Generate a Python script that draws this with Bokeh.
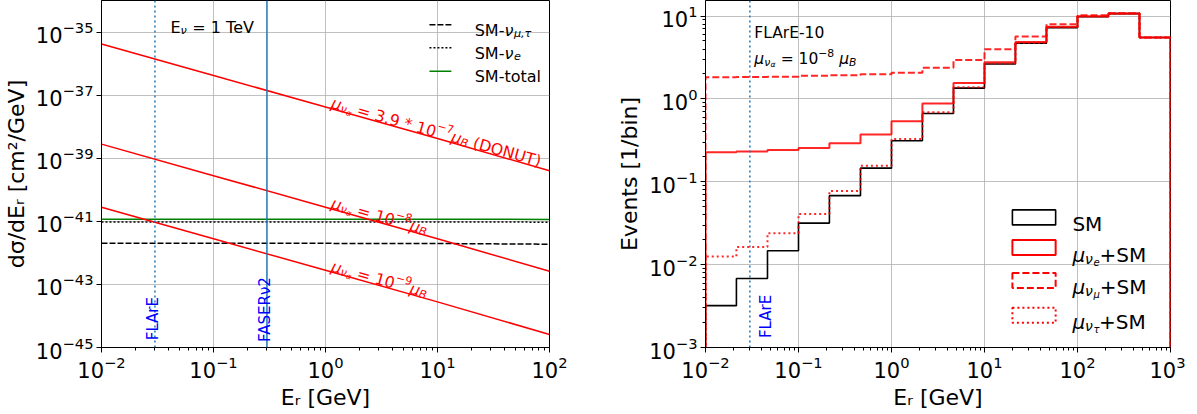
import math
import numpy as np
from bokeh.plotting import figure
from bokeh.models import Label, FixedTicker, Span
from bokeh.layouts import row
from bokeh.embed import file_html
from bokeh.resources import INLINE

FONT = "DejaVu Sans"
RED = "#ff0000"
C0 = "#1f77b4"

# ---------------- left panel data (dsigma/dEr, cm^2/GeV) ----------------
er_points = [1e-2, 1e-1, 1e0, 1e1, 1e2]
xsec_donut = [4.2e-36, 4.2e-37, 4.2e-38, 4.2e-39, 4.0e-40]
xsec_mu8 = [2.8e-39, 2.8e-40, 2.8e-41, 2.8e-42, 2.6e-43]
xsec_mu9 = [2.8e-41, 2.8e-42, 2.8e-43, 2.8e-44, 2.6e-45]
xsec_sm_mutau = [2.0e-42, 2.0e-42, 2.0e-42, 1.98e-42, 1.88e-42]
xsec_sm_e = [9.6e-42, 9.6e-42, 9.6e-42, 9.55e-42, 9.4e-42]
xsec_sm_total = [1.16e-41, 1.16e-41, 1.16e-41, 1.16e-41, 1.15e-41]
flare_threshold = 0.03
faser_threshold = 0.3

left_x_ticks = [1e-2, 1e-1, 1e0, 1e1, 1e2]
left_y_ticks = [1e-45, 1e-43, 1e-41, 1e-39, 1e-37, 1e-35]
left_x_range = (1e-2, 1e2)
left_y_range = (1e-45, 1e-34)

# ---------------- right panel data (events per bin) ----------------
bin_edges = [0.01, 0.0215, 0.0464, 0.1, 0.215, 0.464, 1.0, 2.15, 4.64,
             10.0, 21.5, 46.4, 100.0, 215.0, 464.0, 1000.0]
events_sm = [3.2e-3, 6.8e-3, 1.47e-2, 3.17e-2, 6.8e-2, 0.146, 0.313, 0.666,
             1.35, 2.64, 4.70, 7.24, 9.8, 10.7, 5.5]
events_mue = [0.227, 0.232, 0.242, 0.256, 0.291, 0.373, 0.538, 0.883,
              1.56, 2.76, 4.87, 7.45, 9.97, 10.7, 5.5]
events_mumu = [1.83, 1.84, 1.85, 1.90, 1.93, 1.99, 2.07, 2.38,
               2.94, 3.98, 5.65, 7.94, 10.2, 10.8, 5.5]
events_mutau = [0.0125, 0.0163, 0.0239, 0.0408, 0.0776, 0.156, 0.328, 0.69,
                1.38, 2.68, 4.75, 7.3, 9.85, 10.7, 5.5]

right_x_ticks = [1e-2, 1e-1, 1e0, 1e1, 1e2, 1e3]
right_y_ticks = [1e-3, 1e-2, 1e-1, 1e0, 1e1]
right_x_range = (1e-2, 1e3)
right_y_range = (1e-3, 15.4)

# ---------------- helpers ----------------
CW = {" ": .318, "\u00a0": .318, "0": .636, "1": .636, "2": .636, "3": .636, "4": .636,
      "5": .636, "6": .636, "7": .636, "8": .636, "9": .636, "=": .838, "+": .838,
      "\u2212": .838, "-": .361, "*": .5, ".": .318, ",": .318, "(": .39, ")": .39,
      "A": .684, "B": .686, "D": .770, "E": .632, "F": .575, "L": .557, "M": .863,
      "N": .748, "O": .787, "S": .635, "T": .611, "U": .732, "V": .684, "a": .613,
      "e": .615, "l": .278, "o": .612, "r": .411, "t": .392, "\u03bc": .636,
      "\u03bd": .592, "\u03b1": .659, "\u03c4": .56}


def tw(s):
    return sum(CW.get(c, 0.62) for c in s)


def rich(p, x, y, segs, size, color="black", angle=0.0, perp0=0.0):
    """segs: (text, scale, baseline shift in units of size, italic)"""
    ca, sa = math.cos(angle), math.sin(angle)
    adv = 0.0
    for txt, sc, shift, ital in segs:
        txt = txt.replace(" ", "\u00a0")
        fs = size * sc
        perp = shift * size + perp0
        p.add_layout(Label(x=x, y=y, x_offset=adv * ca - perp * sa,
                           y_offset=adv * sa + perp * ca, angle=angle, text=txt,
                           text_font=FONT, text_font_size=f"{fs:.1f}px",
                           text_font_style="italic" if ital else "normal",
                           text_color=color, text_align="left",
                           text_baseline="alphabetic"))
        adv += tw(txt) * fs


def fx(rng, f):
    lo, hi = math.log10(rng[0]), math.log10(rng[1])
    return 10 ** (lo + f * (hi - lo))


def fy(rng, f):  # fraction measured from the top of the frame
    lo, hi = math.log10(rng[0]), math.log10(rng[1])
    return 10 ** (hi - f * (hi - lo))


def minor_of(major):
    out = []
    for a in major[:-1]:
        out += [m * a for m in range(2, 10)]
    return out


def style(p, xt, yt, xminor, yminor, xlabel, ylabel):
    p.xaxis.ticker = FixedTicker(ticks=xt, minor_ticks=xminor)
    p.yaxis.ticker = FixedTicker(ticks=yt, minor_ticks=yminor)
    p.xaxis.axis_label = xlabel
    p.yaxis.axis_label = ylabel
    for ax in list(p.xaxis) + list(p.yaxis):
        ax.axis_label_text_font = FONT
        ax.axis_label_text_font_size = "22px"
        ax.axis_label_text_font_style = "normal"
        ax.axis_label_text_color = "black"
        ax.major_label_text_font = FONT
        ax.major_label_text_font_size = "21px"
        ax.major_label_text_color = "black"
        ax.major_tick_in = 0
        ax.major_tick_out = 5
        ax.minor_tick_in = 0
        ax.minor_tick_out = 3
        ax.axis_line_color = "black"
        ax.major_tick_line_color = "black"
        ax.minor_tick_line_color = "black"
        ax.major_label_standoff = 3
        ax.axis_label_standoff = 4
    p.grid.grid_line_color = "#b0b0b0"
    p.grid.grid_line_width = 0.8
    p.outline_line_color = "black"
    p.outline_line_alpha = 1.0
    p.background_fill_color = "white"
    p.border_fill_color = "white"


def step_xy(edges, vals, floor=1e-4):
    xs, ys = [edges[0]], [floor]
    for i, v in enumerate(vals):
        xs += [edges[i], edges[i + 1]]
        ys += [v, v]
    xs.append(edges[-1])
    ys.append(floor)
    return xs, ys


def interp_log(xq, xs, ys):
    return 10 ** np.interp(math.log10(xq), np.log10(xs), np.log10(ys))


# ---------------- left figure ----------------
FW1, FH1 = 448, 347
p1 = figure(frame_width=FW1, frame_height=FH1, x_axis_type="log", y_axis_type="log",
            x_range=left_x_range, y_range=left_y_range, output_backend="svg",
            toolbar_location=None, min_border_left=97, min_border_right=40,
            min_border_top=0, min_border_bottom=51)
style(p1, left_x_ticks, left_y_ticks, minor_of(left_x_ticks), [],
      "E\u1d63 [GeV]", "d\u03c3/dE\u1d63 [cm\u00b2/GeV]")

p1.add_layout(Span(location=flare_threshold, dimension="height", line_color=C0,
                   line_width=1.5, line_dash="2 3"))
p1.add_layout(Span(location=faser_threshold, dimension="height", line_color=C0,
                   line_width=1.5))

p1.line(er_points, xsec_sm_mutau, line_color="black", line_width=1.5, line_dash="6 2")
p1.line(er_points, xsec_sm_e, line_color="black", line_width=1.5, line_dash="2 2")
p1.line(er_points, xsec_sm_total, line_color="green", line_width=1.5)
for arr in (xsec_donut, xsec_mu8, xsec_mu9):
    p1.line(er_points, arr, line_color=RED, line_width=1.5)

# rotated labels along the red lines
ang = -math.atan((FH1 / 11.0) / (FW1 / 4.0))
x_lab = 1.1
mu_head = [("\u03bc", 1, 0, True), ("\u03bd", 0.7, -0.2, True), ("\u03b1", 0.5, -0.36, True)]
rich(p1, x_lab, interp_log(x_lab, er_points, xsec_donut),
     mu_head + [(" = 3.9 * 10", 1, 0, False), ("\u22127", 0.7, 0.42, False),
                ("\u03bc", 1, 0, True), ("B", 0.7, -0.2, True), (" (DONUT)", 1, 0, False)],
     15.8, color=RED, angle=ang, perp0=6)
rich(p1, x_lab, interp_log(x_lab, er_points, xsec_mu8),
     mu_head + [(" = 10", 1, 0, False), ("\u22128", 0.7, 0.42, False),
                ("\u03bc", 1, 0, True), ("B", 0.7, -0.2, True)],
     15.8, color=RED, angle=ang, perp0=6)
rich(p1, x_lab, interp_log(x_lab, er_points, xsec_mu9),
     mu_head + [(" = 10", 1, 0, False), ("\u22129", 0.7, 0.42, False),
                ("\u03bc", 1, 0, True), ("B", 0.7, -0.2, True)],
     15.8, color=RED, angle=ang, perp0=6)

# threshold labels
p1.add_layout(Label(x=0.029, y=1.7e-45, text="FLArE", angle=math.pi / 2, text_font=FONT,
                    text_font_size="15px", text_color="blue", text_align="left",
                    text_baseline="alphabetic"))
p1.add_layout(Label(x=0.29, y=1.5e-45, text="FASER\u03bd2", angle=math.pi / 2,
                    text_font=FONT, text_font_size="15px", text_color="blue",
                    text_align="left", text_baseline="alphabetic"))

# E_nu text
rich(p1, fx(left_x_range, 0.154), fy(left_y_range, 0.078),
     [("E", 1, 0, False), ("\u03bd", 0.7, -0.2, True), (" = 1 TeV", 1, 0, False)], 16)

# legend (left)
leg_rows = [0.070, 0.136, 0.204]
leg_styles = [dict(line_dash="6 2", line_color="black"),
              dict(line_dash="2 2", line_color="black"),
              dict(line_dash="solid", line_color="green")]
leg_texts = [[("SM-", 1, 0, False), ("\u03bd", 1, 0, True), ("\u03bc,\u03c4", 0.7, -0.2, True)],
             [("SM-", 1, 0, False), ("\u03bd", 1, 0, True), ("e", 0.7, -0.2, True)],
             [("SM-total", 1, 0, False)]]
for r, st, tx in zip(leg_rows, leg_styles, leg_texts):
    yy = fy(left_y_range, r)
    p1.line([fx(left_x_range, 0.732), fx(left_x_range, 0.781)], [yy, yy],
            line_width=1.5, **st)
    rich(p1, fx(left_x_range, 0.833), fy(left_y_range, r + 0.016), tx, 16)

# ---------------- right figure ----------------
FW2, FH2 = 465, 347
p2 = figure(frame_width=FW2, frame_height=FH2, x_axis_type="log", y_axis_type="log",
            x_range=right_x_range, y_range=right_y_range, output_backend="svg",
            toolbar_location=None, min_border_left=116, min_border_right=15,
            min_border_top=0, min_border_bottom=51)
style(p2, right_x_ticks, right_y_ticks, minor_of(right_x_ticks),
      minor_of(right_y_ticks + [100.0]), "E\u1d63 [GeV]", "Events [1/bin]")

p2.add_layout(Span(location=flare_threshold, dimension="height", line_color=C0,
                   line_width=1.5, line_dash="2 3"))

xs, ys = step_xy(bin_edges, events_sm)
p2.line(xs, ys, line_color="black", line_width=1.6)
xs, ys = step_xy(bin_edges, events_mue)
p2.line(xs, ys, line_color=RED, line_width=2, line_alpha=0.85)
xs, ys = step_xy(bin_edges, events_mumu)
p2.line(xs, ys, line_color=RED, line_width=2, line_alpha=0.85, line_dash="7 3")
xs, ys = step_xy(bin_edges, events_mutau)
p2.line(xs, ys, line_color=RED, line_width=2, line_alpha=0.85, line_dash="2 3")

p2.add_layout(Label(x=0.045, y=1.3e-3, text="FLArE", angle=math.pi / 2, text_font=FONT,
                    text_font_size="15px", text_color="blue", text_align="left",
                    text_baseline="alphabetic"))

rich(p2, fx(right_x_range, 0.105), fy(right_y_range, 0.095), [("FLArE-10", 1, 0, False)], 15.5)
rich(p2, fx(right_x_range, 0.105), fy(right_y_range, 0.169),
     mu_head + [(" = 10", 1, 0, False), ("\u22128", 0.7, 0.42, False), (" ", 1, 0, False),
                ("\u03bc", 1, 0, True), ("B", 0.7, -0.2, True)], 15.5)

# legend (right) with outlined boxes
rleg_rows = [0.625, 0.712, 0.807, 0.907]
rleg_styles = [dict(line_color="black", line_width=1.6, line_dash="solid"),
               dict(line_color=RED, line_width=2, line_dash="solid"),
               dict(line_color=RED, line_width=2, line_dash="7 3"),
               dict(line_color=RED, line_width=2, line_dash="2 3")]
rleg_texts = [[("SM", 1, 0, False)],
              [("\u03bc", 1, 0, True), ("\u03bd", 0.7, -0.2, True), ("e", 0.5, -0.36, True), ("+SM", 1, 0, False)],
              [("\u03bc", 1, 0, True), ("\u03bd", 0.7, -0.2, True), ("\u03bc", 0.5, -0.36, True), ("+SM", 1, 0, False)],
              [("\u03bc", 1, 0, True), ("\u03bd", 0.7, -0.2, True), ("\u03c4", 0.5, -0.36, True), ("+SM", 1, 0, False)]]
hh = 7.5 / FH2
for r, st, tx in zip(rleg_rows, rleg_styles, rleg_texts):
    p2.quad(left=[fx(right_x_range, 0.660)], right=[fx(right_x_range, 0.753)],
            top=[fy(right_y_range, r - hh)], bottom=[fy(right_y_range, r + hh)],
            fill_alpha=0, **st)
    rich(p2, fx(right_x_range, 0.789), fy(right_y_range, r + 0.020), tx, 20)

layout = row(p1, p2)
open("out.html", "w").write(file_html(layout, INLINE))
